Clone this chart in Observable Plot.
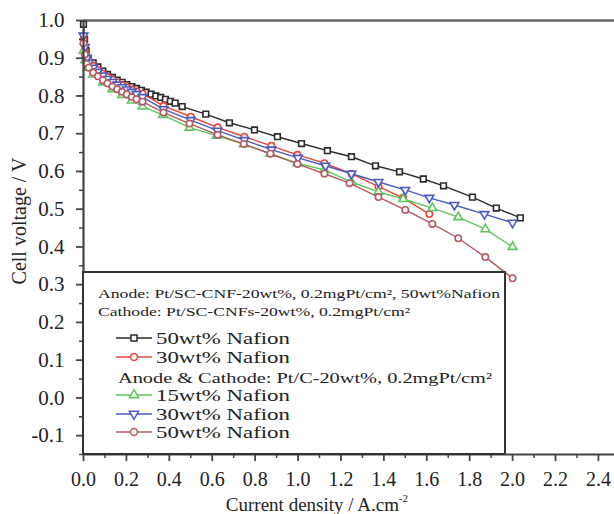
<!DOCTYPE html>
<html>
<head>
<meta charset="utf-8">
<script src="https://cdn.jsdelivr.net/npm/d3@7"></script>
<script src="https://cdn.jsdelivr.net/npm/@observablehq/plot@0.6"></script>
<style>
  html, body { margin: 0; padding: 0; background: #fff; }
  #chart { position: relative; width: 614px; height: 514px; }
</style>
</head>
<body>
<div id="chart"></div>
<script>
// ---- data ----
const sc50X = [0, 0.005, 0.012, 0.022, 0.045, 0.067, 0.09, 0.112, 0.135, 0.157, 0.18, 0.202, 0.225, 0.247, 0.27, 0.292, 0.315, 0.337, 0.36, 0.382, 0.405, 0.427, 0.46, 0.57, 0.68, 0.797, 0.904, 1.016, 1.137, 1.249, 1.361, 1.473, 1.584, 1.678, 1.813, 1.924, 2.036];
const sc50Y = [0.99, 0.95, 0.92, 0.90, 0.888, 0.877, 0.866, 0.857, 0.849, 0.842, 0.836, 0.830, 0.825, 0.820, 0.815, 0.810, 0.805, 0.800, 0.796, 0.791, 0.786, 0.781, 0.772, 0.752, 0.729, 0.710, 0.692, 0.674, 0.655, 0.639, 0.615, 0.599, 0.580, 0.562, 0.532, 0.503, 0.477];

const sc30X = [0, 0.006, 0.015, 0.025, 0.045, 0.067, 0.09, 0.112, 0.135, 0.157, 0.18, 0.202, 0.225, 0.247, 0.275, 0.373, 0.5, 0.625, 0.75, 0.876, 0.997, 1.123, 1.249, 1.375, 1.49, 1.612];
const sc30Y = [0.95, 0.92, 0.90, 0.893, 0.880, 0.869, 0.859, 0.850, 0.843, 0.836, 0.829, 0.823, 0.817, 0.812, 0.806, 0.774, 0.745, 0.717, 0.692, 0.668, 0.644, 0.622, 0.594, 0.560, 0.530, 0.487];

const pc15X = [0, 0.008, 0.02, 0.045, 0.09, 0.135, 0.18, 0.225, 0.275, 0.37, 0.494, 0.62, 0.747, 0.87, 0.997, 1.123, 1.249, 1.375, 1.49, 1.626, 1.747, 1.873, 2.0];
const pc15Y = [0.92, 0.895, 0.875, 0.857, 0.836, 0.818, 0.803, 0.788, 0.772, 0.750, 0.716, 0.695, 0.672, 0.647, 0.622, 0.604, 0.572, 0.546, 0.527, 0.503, 0.479, 0.447, 0.400];

const pc30X = [0, 0.006, 0.015, 0.025, 0.045, 0.067, 0.09, 0.112, 0.135, 0.157, 0.18, 0.202, 0.225, 0.247, 0.275, 0.373, 0.5, 0.625, 0.75, 0.876, 1.0, 1.128, 1.249, 1.375, 1.5, 1.612, 1.729, 1.869, 2.0];
const pc30Y = [0.96, 0.93, 0.90, 0.888, 0.875, 0.864, 0.854, 0.845, 0.837, 0.830, 0.823, 0.817, 0.811, 0.805, 0.797, 0.765, 0.736, 0.708, 0.683, 0.658, 0.636, 0.615, 0.594, 0.572, 0.551, 0.530, 0.511, 0.487, 0.464];

const pc50X = [0, 0.006, 0.015, 0.025, 0.045, 0.067, 0.09, 0.112, 0.135, 0.157, 0.18, 0.202, 0.225, 0.247, 0.275, 0.373, 0.494, 0.625, 0.747, 0.871, 0.997, 1.123, 1.24, 1.375, 1.5, 1.626, 1.747, 1.873, 2.0];
const pc50Y = [0.94, 0.91, 0.885, 0.875, 0.862, 0.852, 0.842, 0.833, 0.825, 0.818, 0.811, 0.804, 0.797, 0.791, 0.785, 0.756, 0.727, 0.697, 0.673, 0.647, 0.620, 0.594, 0.569, 0.532, 0.498, 0.461, 0.423, 0.373, 0.317];

const xTicks = [0.0, 0.2, 0.4, 0.6, 0.8, 1.0, 1.2, 1.4, 1.6, 1.8, 2.0, 2.2, 2.4];
const yTicks = [-0.1, 0.0, 0.1, 0.2, 0.3, 0.4, 0.5, 0.6, 0.7, 0.8, 0.9, 1.0];
const xDomain = [0, 2.475];
const yDomain = [-0.15, 1.0];

const seriesNames = ["SC 50wt% Nafion", "SC 30wt% Nafion", "PtC 15wt% Nafion", "PtC 30wt% Nafion", "PtC 50wt% Nafion"];
const seriesColors = ["#2b2b2b", "#e8443a", "#5cc65a", "#4b5bc4", "#b45a62"];
const seriesSymbols = ["square", "circle", "triangle", "triangle", "circle"];
const seriesRotate = [0, 0, 0, 180, 0];

const legendHeader1 = "Anode: Pt/SC-CNF-20wt%, 0.2mgPt/cm², 50wt%Nafion";
const legendHeader2 = "Cathode: Pt/SC-CNFs-20wt%, 0.2mgPt/cm²";
const legendHeader3 = "Anode & Cathode: Pt/C-20wt%, 0.2mgPt/cm²";
const legendLabels = ["50wt% Nafion", "30wt% Nafion", "15wt% Nafion", "30wt% Nafion", "50wt% Nafion"];

// ---- build ----
const xs = [sc50X, sc30X, pc15X, pc30X, pc50X];
const ys = [sc50Y, sc30Y, pc15Y, pc30Y, pc50Y];
const tables = xs.map((X, i) => X.map((x, j) => ({x, y: ys[i][j], s: seriesNames[i]})));

const xMinor = xTicks.map(v => v + 0.1).filter(v => v < xDomain[1]);
const yMinor = yTicks.slice(0, -1).map((v, i) => (v + yTicks[i + 1]) / 2).concat([yDomain[0]]);

const font = "'Liberation Serif', 'Times New Roman', serif";
const axisColor = "#444";

const marks = [];
marks.push(Plot.ruleY([yDomain[1]], {stroke: "#666", strokeWidth: 2.5}));
tables.forEach((t, i) => {
  marks.push(Plot.line(t, {x: "x", y: "y", stroke: seriesColors[i], strokeWidth: 1.4}));
  marks.push(Plot.dot(t, {x: "x", y: "y", stroke: seriesColors[i], fill: "white", symbol: seriesSymbols[i], rotate: seriesRotate[i], r: 3.2, strokeWidth: 1.6}));
});
marks.push(
  Plot.axisX({ticks: xTicks, tickFormat: d => d.toFixed(1), tickSize: 7, tickPadding: 10, fontSize: 20, label: null, stroke: axisColor, strokeWidth: 1.8, fill: "#222"}),
  Plot.axisX({ticks: xMinor, tickFormat: () => "", tickSize: 4, label: null, stroke: axisColor, strokeWidth: 1.5}),
  Plot.axisY({ticks: yTicks, tickFormat: d => d.toFixed(1), tickSize: 7, tickPadding: 12, fontSize: 21, label: null, stroke: axisColor, strokeWidth: 1.8, fill: "#222"}),
  Plot.axisY({ticks: yMinor, tickFormat: () => "", tickSize: 4, label: null, stroke: axisColor, strokeWidth: 1.5}),
  Plot.ruleX([xDomain[0]], {stroke: axisColor, strokeWidth: 2.2}),
  Plot.ruleY([yDomain[0]], {stroke: axisColor, strokeWidth: 2.2})
);

const chart = Plot.plot({
  width: 614, height: 514,
  marginLeft: 83, marginRight: 0, marginTop: 20, marginBottom: 60,
  style: {fontFamily: font, background: "white", color: "#222"},
  x: {domain: xDomain},
  y: {domain: yDomain},
  marks
});
document.getElementById("chart").appendChild(chart);

const svg = d3.select(chart);

// axis titles
svg.append("text")
  .attr("x", 317).attr("y", 511)
  .attr("text-anchor", "middle")
  .attr("font-family", font).attr("font-size", 19).attr("fill", "#222")
  .text("Current density / A.cm")
  .append("tspan").attr("font-size", 11).attr("dy", -9).text("-2");
svg.append("text")
  .attr("transform", "translate(26,221) rotate(-90)")
  .attr("text-anchor", "middle")
  .attr("font-family", font).attr("font-size", 20).attr("fill", "#222")
  .text("Cell voltage / V");

// legend box
const g = svg.append("g").attr("text-anchor", "start");
g.append("rect").attr("x", 83).attr("y", 272).attr("width", 422).attr("height", 182)
  .attr("fill", "white").attr("stroke", "#333").attr("stroke-width", 2);

function addText(txt, x, y, size, len) {
  g.append("text").attr("x", x).attr("y", y).attr("font-family", font)
    .attr("text-anchor", "start")
    .attr("font-size", size).attr("fill", "#222")
    .attr("textLength", len).attr("lengthAdjust", "spacingAndGlyphs")
    .text(txt);
}
addText(legendHeader1, 98, 298, 13, 402);
addText(legendHeader2, 98, 316, 13, 312);
addText(legendHeader3, 118, 383, 15, 374);

const rowY = [338, 357, 395, 414, 432];
const symMap = {square: d3.symbolSquare, circle: d3.symbolCircle, triangle: d3.symbolTriangle};
rowY.forEach((cy, i) => {
  g.append("line").attr("x1", 116).attr("x2", 152).attr("y1", cy).attr("y2", cy)
    .attr("stroke", seriesColors[i]).attr("stroke-width", 1.6);
  g.append("path")
    .attr("d", d3.symbol(symMap[seriesSymbols[i]], 36)())
    .attr("transform", `translate(134,${cy}) rotate(${seriesRotate[i]})`)
    .attr("fill", "white").attr("stroke", seriesColors[i]).attr("stroke-width", 1.5);
  addText(legendLabels[i], 156, cy + 6, 17, 134);
});
</script>
</body>
</html>
